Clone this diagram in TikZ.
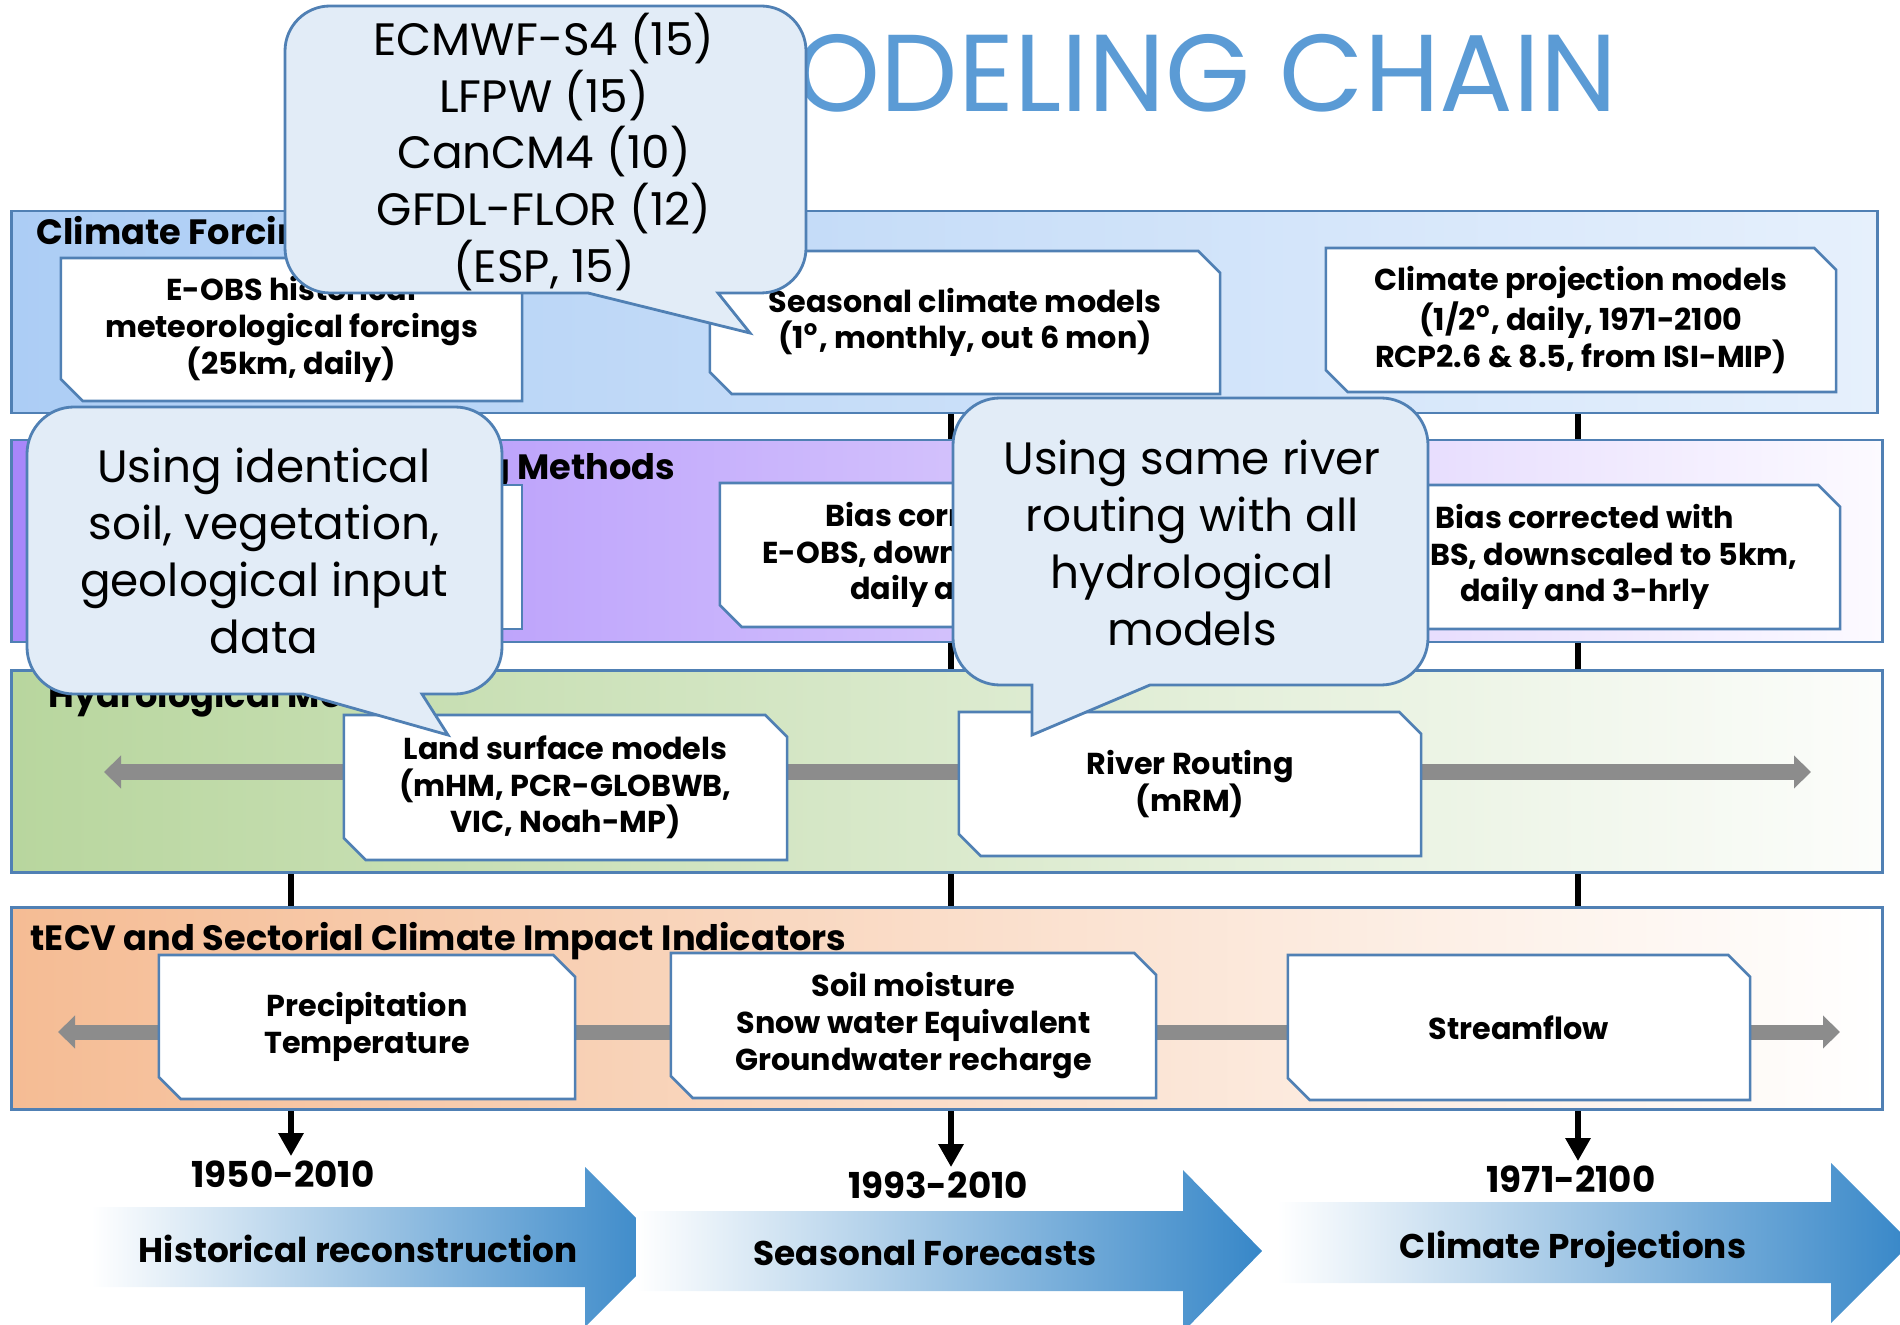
\documentclass[tikz,border=0pt]{standalone}
\usepackage{fontspec}
\setmainfont{Poppins}
\usepackage{tikz}
\usetikzlibrary{shapes.misc, arrows.meta, positioning}

\definecolor{edge}{RGB}{80,128,180}
\definecolor{bubble}{RGB}{226,236,247}
\definecolor{titleblue}{RGB}{91,155,213}
\definecolor{flowgray}{RGB}{140,140,140}
\definecolor{arrowblue}{RGB}{55,135,200}
\definecolor{cfL}{RGB}{172,205,245}
\definecolor{cfR}{RGB}{230,240,252}
\definecolor{bcL}{RGB}{168,134,250}
\definecolor{bcR}{RGB}{252,250,255}
\definecolor{hmL}{RGB}{184,214,158}
\definecolor{hmR}{RGB}{252,253,251}
\definecolor{inL}{RGB}{245,188,148}
\definecolor{inR}{RGB}{255,255,255}

\tikzset{
  band/.style={draw=edge, line width=0.8pt, minimum height=2.02cm, inner sep=0pt},
  bandtitle/.style={inner sep=0pt, font={\fontsize{10}{12}\selectfont\bfseries}},
  snipbox/.style={chamfered rectangle, chamfered rectangle corners={north east, south west},
    chamfered rectangle xsep=0.11cm, chamfered rectangle ysep=0.11cm,
    draw=edge, line width=0.75pt, fill=white, inner sep=0pt, align=center,
    font={\fontsize{8.6}{10.44}\selectfont\bfseries}},
  callout/.style={draw=edge, line width=0.8pt, fill=bubble},
  bubbletext/.style={align=center, inner sep=0pt, font={\fontsize{12.9}{16.15}\selectfont}},
  year/.style={anchor=base, inner sep=1pt, font={\fontsize{10.15}{12}\selectfont\bfseries}},
  phase/.style={anchor=base, inner sep=0pt, font={\fontsize{9.75}{12}\selectfont\bfseries}},
  timeline/.style={line width=1.85pt, -{Triangle[length=2.3mm,width=2.4mm]}},
  flow/.style={line width=0.15cm, draw=flowgray,
    {Triangle[length=1.7mm,width=3.2mm]}-{Triangle[length=1.7mm,width=3.2mm]}}
}

\begin{document}
\begin{tikzpicture}[x=0.01cm, y=-0.01cm]
  \useasboundingbox (0,0) rectangle (1900,1325);

  \node[anchor=base east, text=titleblue, inner sep=0pt, font={\fontsize{31.1}{32}\selectfont}] (title) at (1618,112) {MODELING CHAIN};

  \node[year] (y1) at (283,1187) {1950-2010};
  \node[year] (y2) at (938,1198) {1993-2010};
  \node[year] (y3) at (1571,1192) {1971-2100};
  \coordinate (t1) at (291,400);
  \coordinate (t2) at (951,400);
  \coordinate (t3) at (1578,400);
  \draw[timeline] (t1) -- (t1 |- y1.north);
  \draw[timeline] (t2) -- (t2 |- y2.north);
  \draw[timeline] (t3) -- (t3 |- y3.north);

  \node[band, minimum width=18.65cm, left color=cfL, right color=cfR] (cf) at (944.5,312) {};
  \node[band, minimum width=18.7cm, left color=bcL, right color=bcR] (bc) at (947,541) {};
  \node[band, minimum width=18.7cm, left color=hmL, right color=hmR] (hm) at (947,771.5) {};
  \node[band, minimum width=18.7cm, left color=inL, right color=inR] (ind) at (947,1008.5) {};

  \node[bandtitle, anchor=base west] (cft) at (36,245) {Climate Forcing};
  \node[bandtitle, anchor=base east] (bct) at (676,480) {Downscaling Methods};
  \node[bandtitle, anchor=base west] (hmt) at (48,708) {Hydrological Models};
  \node[bandtitle, anchor=base west] (indt) at (30,950) {tECV and Sectorial Climate Impact Indicators};

  \coordinate (h0) at (104,772);
  \coordinate (h1) at (1811,772);
  \draw[flow] (h0) -- (h1);
  \coordinate (i0) at (58,1032);
  \coordinate (i1) at (1840,1032);
  \draw[flow] (i0) -- (i1);

  \node[snipbox, minimum width=4.61cm, minimum height=1.43cm] (eobs) at (291.5,329.5) {E-OBS historical\\meteorological forcings\\(25km, daily)};
  \node[snipbox, minimum width=5.1cm, minimum height=1.43cm] (seas) at (965,322.5) {Seasonal climate models\\(1\textsuperscript{o}, monthly, out 6 mon)};
  \node[snipbox, minimum width=5.1cm, minimum height=1.44cm] (proj) at (1581,320) {Climate projection models\\(1/2\textsuperscript{o}, daily, 1971-2100\\RCP2.6 \& 8.5, from ISI-MIP)};
  \node[snipbox, minimum width=4.61cm, minimum height=1.44cm] (bch) at (291.5,557) {};
  \node[snipbox, minimum width=5.1cm, minimum height=1.44cm] (bcs) at (975,555) {Bias corrected with\\E-OBS, downscaled to 5km,\\daily and 3-hrly};
  \node[snipbox, minimum width=5.1cm, minimum height=1.44cm] (bcp) at (1585,557) {Bias corrected with\\E-OBS, downscaled to 5km,\\daily and 3-hrly};
  \node[snipbox, minimum width=4.43cm, minimum height=1.45cm] (lsm) at (565.5,787.5) {Land surface models\\(mHM, PCR-GLOBWB,\\VIC, Noah-MP)};
  \node[snipbox, minimum width=4.62cm, minimum height=1.44cm] (mrm) at (1190,784) {River Routing\\(mRM)};
  \node[snipbox, minimum width=4.16cm, minimum height=1.44cm] (met) at (367,1027) {Precipitation\\Temperature};
  \node[snipbox, minimum width=4.85cm, minimum height=1.45cm] (hyd) at (913.5,1025.5) {Soil moisture\\Snow water Equivalent\\Groundwater recharge};
  \node[snipbox, minimum width=4.62cm, minimum height=1.45cm] (flw) at (1519,1027.5) {Streamflow};

  \draw[callout] (285,150) [rounded corners=0.45cm] -- (285,6) -- (806,6) -- (806,293)
    [sharp corners] -- (718,293) -- (750,333) -- (588,293) [rounded corners=0.45cm] -- (285,293) -- cycle;
  \node[bubbletext] (c1) at (544,152) {ECMWF-S4 (15)\\LFPW (15)\\CanCM4 (10)\\GFDL-FLOR (12)\\(ESP, 15)};

  \draw[callout] (27,550) [rounded corners=0.47cm] -- (27,407) -- (502,407) -- (502,694)
    [sharp corners] -- (422,694) -- (448,735) -- (303,694) [rounded corners=0.47cm] -- (27,694) -- cycle;
  \node[bubbletext] (c2) at (264,551) {Using identical\\soil, vegetation,\\geological input\\data};

  \draw[callout] (953,540) [rounded corners=0.47cm] -- (953,398) -- (1428,398) -- (1428,685)
    [sharp corners] -- (1150,685) -- (1032,735) -- (1032,685) [rounded corners=0.47cm] -- (953,685) -- cycle;
  \node[bubbletext] (c3) at (1192,543) {Using same river\\routing with all\\hydrological\\models};

  \shade[left color=white, right color=arrowblue] (91,1207) -- (585,1207) -- (585,1167) -- (665,1247) -- (585,1327) -- (585,1287) -- (91,1287) -- cycle;
  \shade[left color=white, right color=arrowblue] (636,1211) -- (1183,1211) -- (1183,1170) -- (1262,1251) -- (1183,1332) -- (1183,1291) -- (636,1291) -- cycle;
  \shade[left color=white, right color=arrowblue] (1277,1202) -- (1831,1202) -- (1831,1163) -- (1911,1243) -- (1831,1323) -- (1831,1283) -- (1277,1283) -- cycle;

  \node[phase] (hist) at (358,1262) {Historical reconstruction};
  \node[phase] (seasf) at (925,1265) {Seasonal Forecasts};
  \node[phase] (clim) at (1573,1258) {Climate Projections};
\end{tikzpicture}
\end{document}
